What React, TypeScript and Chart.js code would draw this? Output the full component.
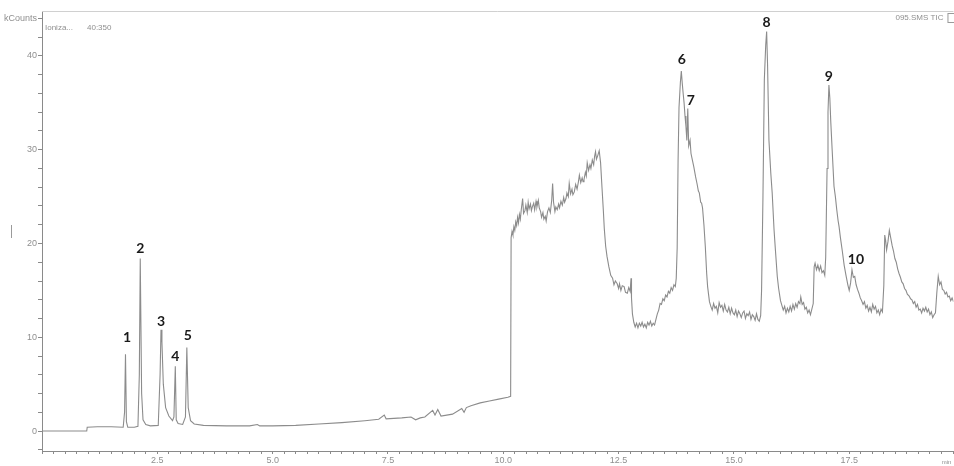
import { useEffect, useRef } from 'react';
import { Chart, registerables } from 'chart.js';

Chart.register(...registerables);

// Retention time (min) of each sampled point of the TIC trace
const retentionTimes: number[] = [
  0, 0.97, 0.98, 1.2, 1.5, 1.76, 1.79, 1.81, 1.83, 1.86, 2.0, 2.08, 2.11, 2.13, 2.16, 2.19, 2.25, 2.35, 2.52, 2.56,
  2.58, 2.6, 2.63, 2.68, 2.75, 2.83, 2.86, 2.89, 2.91, 2.95, 3.05, 3.11, 3.14, 3.17, 3.22, 3.3, 3.5, 4.0, 4.5, 4.67,
  4.72, 5.0, 5.5, 6.0, 6.5, 7.0, 7.3, 7.42, 7.46, 7.8, 8.0, 8.1, 8.2, 8.3, 8.47, 8.52, 8.58, 8.65, 8.9, 9.1,
  9.15, 9.2, 9.3, 9.5, 9.7, 9.9, 10.1, 10.16,
  10.17, 10.19, 10.21, 10.23, 10.25, 10.27, 10.29, 10.31, 10.33, 10.35, 10.37, 10.39, 10.42, 10.44, 10.47, 10.49,
  10.52, 10.54, 10.56, 10.59, 10.61, 10.63, 10.66, 10.68, 10.71, 10.73, 10.76, 10.78, 10.81, 10.83, 10.86, 10.88,
  10.91, 10.93, 10.96, 10.99, 11.02, 11.05, 11.07, 11.09, 11.12, 11.14, 11.17, 11.2, 11.22, 11.25, 11.28, 11.31,
  11.33, 11.36, 11.38, 11.41, 11.43, 11.46, 11.49, 11.51, 11.54, 11.57, 11.6, 11.63, 11.65, 11.68, 11.71, 11.73,
  11.75, 11.78, 11.8, 11.82, 11.85, 11.88, 11.9, 11.93, 11.96, 11.98, 12.0, 12.02, 12.05, 12.08, 12.11, 12.14,
  12.17, 12.19, 12.22, 12.25, 12.29, 12.33, 12.37, 12.4, 12.43, 12.47, 12.5, 12.52, 12.55, 12.58, 12.62, 12.65,
  12.69, 12.72, 12.75, 12.77, 12.78, 12.8, 12.83, 12.86, 12.89, 12.92, 12.95, 12.98, 13.01, 13.04, 13.07, 13.1,
  13.13, 13.16, 13.19, 13.22, 13.25, 13.28, 13.31, 13.34, 13.37, 13.4, 13.43, 13.46, 13.49, 13.52, 13.55, 13.58,
  13.61, 13.64, 13.67, 13.7, 13.73, 13.75, 13.77, 13.79, 13.81, 13.84, 13.86, 13.88, 13.9, 13.92, 13.94, 13.96,
  13.98, 14.0, 14.02, 14.05, 14.07, 14.1, 14.13, 14.17, 14.2, 14.23, 14.25, 14.28, 14.3, 14.32, 14.35, 14.38,
  14.41, 14.43, 14.47, 14.5, 14.53, 14.56, 14.59, 14.62, 14.65, 14.68, 14.71, 14.74, 14.77, 14.8, 14.83, 14.86,
  14.89, 14.92, 14.95, 14.98, 15.01, 15.04, 15.07, 15.1, 15.13, 15.16, 15.19, 15.22, 15.25, 15.28, 15.31, 15.34,
  15.37, 15.4, 15.43, 15.46, 15.49, 15.52, 15.55, 15.58, 15.6, 15.63, 15.66, 15.69, 15.71, 15.73, 15.76, 15.8,
  15.83, 15.87, 15.9, 15.94, 15.97, 16.01, 16.04, 16.07, 16.1, 16.13, 16.16, 16.19, 16.22, 16.25, 16.28, 16.31,
  16.34, 16.37, 16.4, 16.43, 16.45, 16.48, 16.51, 16.54, 16.57, 16.6, 16.63, 16.66, 16.69, 16.72, 16.74, 16.76,
  16.79, 16.82, 16.85, 16.88, 16.91, 16.94, 16.97, 16.99, 17.02, 17.04, 17.06, 17.08, 17.1, 17.13, 17.17, 17.2,
  17.23, 17.26, 17.28, 17.31, 17.35, 17.39, 17.43, 17.47, 17.5, 17.53, 17.56, 17.59, 17.62, 17.65, 17.68, 17.71,
  17.74, 17.77, 17.8, 17.83, 17.86, 17.89, 17.92, 17.95, 17.98, 18.01, 18.04, 18.07, 18.1, 18.13, 18.16, 18.19,
  18.22, 18.25, 18.27, 18.29, 18.31, 18.34, 18.37, 18.4, 18.43, 18.46, 18.49, 18.52, 18.55, 18.58, 18.61, 18.64,
  18.67, 18.7, 18.73, 18.76, 18.8, 18.83, 18.86, 18.89, 18.92, 18.95, 18.98, 19.01, 19.04, 19.07, 19.1, 19.13,
  19.16, 19.19, 19.22, 19.25, 19.28, 19.31, 19.34, 19.37, 19.4, 19.43, 19.46, 19.49, 19.52, 19.55, 19.58, 19.61,
  19.64, 19.67, 19.7, 19.73, 19.76,
];

// Total ion current (kCounts) at each retention time
const ticCounts: number[] = [
  0, 0, 0.4, 0.45, 0.45, 0.4, 2.0, 8.2, 1.0, 0.4, 0.4, 0.5, 6.0, 18.4, 4.0, 1.2, 0.7, 0.55, 0.6, 6.0,
  10.8, 9.5, 5.0, 2.5, 1.6, 1.1, 1.5, 6.9, 1.2, 0.8, 0.7, 1.5, 8.9, 2.5, 1.1, 0.75, 0.6, 0.55, 0.55, 0.7,
  0.55, 0.55, 0.6, 0.75, 0.9, 1.1, 1.25, 1.7, 1.3, 1.4, 1.5, 1.2, 1.4, 1.5, 2.2, 1.7, 2.3, 1.6, 1.8, 2.4,
  2.0, 2.5, 2.7, 3.0, 3.2, 3.4, 3.6, 3.7,
  20.6, 21.3, 20.9, 21.8, 21.4, 22.3, 21.9, 22.8, 22.2, 23.1, 22.6, 23.6, 24.8, 23.2, 23.5, 24.1,
  23.3, 24.4, 23.7, 24.2, 23.5, 23.9, 24.3, 23.6, 24.5, 23.9, 24.6, 23.8, 23.4, 22.8, 23.3, 22.6,
  22.9, 22.4, 23.4, 23.8, 23.3, 24.6, 26.4, 24.4, 23.4, 23.9, 23.6, 24.2, 23.8, 24.5, 24.1, 24.9,
  24.4, 24.8, 25.4, 25.0, 26.4, 25.3, 25.8, 25.2, 25.5, 26.3, 25.8, 26.6, 27.3, 26.5, 27.0, 26.6,
  26.8, 27.6, 27.2, 28.6, 27.8, 28.4, 28.0, 28.9, 28.4, 29.3, 29.8, 29.0, 29.4, 29.9, 28.6, 26.0,
  23.5, 21.6, 19.7, 18.6, 17.5, 16.6, 16.3, 15.6, 16.0, 15.7, 15.2, 15.7, 15.0, 15.5, 15.4, 14.8,
  14.7, 15.3, 14.9, 16.3, 14.2, 12.5, 11.6, 11.1, 11.5, 11.0, 11.5, 11.2, 11.6, 11.1, 11.4, 11.0,
  11.6, 11.3, 11.7, 11.2, 11.5, 11.3, 11.9, 12.5, 12.9, 13.6, 13.5, 14.1, 13.9, 14.5, 14.3, 14.9,
  14.7, 15.3, 15.0, 15.6, 15.4, 16.3, 19.5, 28.9, 34.5, 37.2, 38.4, 37.1, 36.0, 35.0, 33.6, 32.5,
  31.0, 34.4, 30.4, 31.0, 29.6, 28.9, 28.2, 27.1, 26.4, 25.6, 25.4, 24.4, 24.3, 23.8, 22.0, 19.7,
  16.8, 15.4, 13.8, 13.3, 12.9, 13.6, 13.1, 13.3, 12.6, 13.7, 13.2, 13.4, 12.8, 13.5, 12.9, 12.7,
  13.2, 12.5, 13.1, 12.6, 12.4, 12.9, 12.2, 12.8, 12.5, 12.1, 12.6, 12.8, 12.0, 12.5, 12.3, 12.7,
  11.9, 12.4, 12.2, 11.8, 12.5, 11.9, 11.7, 12.3, 15.0, 25.0, 37.5, 41.2, 42.6, 39.0, 31.0, 27.5,
  25.4, 21.5, 19.3, 16.5, 15.2, 13.9, 13.4, 12.9, 13.3, 12.6, 13.1, 12.7, 13.3, 12.8, 13.5, 13.0,
  13.6, 13.2, 13.8, 13.6, 14.3, 13.5, 13.7, 13.0, 13.2, 12.6, 12.9, 12.4, 13.0, 13.6, 17.5, 17.9,
  17.2, 17.7, 17.1, 17.6, 16.9, 17.1, 16.6, 18.5, 28.0, 34.0, 36.9, 35.5, 33.0, 30.0, 26.1, 25.0,
  23.6, 22.4, 21.8, 20.6, 19.2, 17.7, 16.6, 15.6, 15.0, 15.8, 17.2, 16.4, 16.5, 15.6, 15.1, 14.7,
  14.2, 13.9, 13.5, 13.8, 13.1, 13.4, 12.8, 13.2, 12.7, 13.5, 13.0, 13.3, 12.6, 12.9, 12.4, 13.0,
  12.7, 15.5, 20.9, 20.3, 19.3, 20.2, 21.4, 20.6, 19.8, 19.2, 18.4, 18.0, 17.3, 16.8, 16.4, 15.9,
  15.7, 15.2, 15.0, 14.6, 14.4, 14.1, 14.0, 13.6, 13.8, 13.2, 13.5, 12.9, 13.0, 12.6, 13.1, 12.8,
  13.2, 12.7, 13.0, 12.4, 12.7, 12.1, 12.4, 12.6, 14.8, 16.5, 15.6, 15.9, 15.1, 15.0, 14.6, 14.8,
  14.3, 14.4, 13.9, 14.2, 13.8,
];

// Numbered peaks and their apex retention times
const peakNames: string[] = ['1', '2', '3', '4', '5', '6', '7', '8', '9', '10'];
const peakTimes: number[] = [1.81, 2.13, 2.58, 2.89, 3.14, 13.86, 14.0, 15.71, 17.06, 17.56];

// Axis tick values
const yTickValues: number[] = [-2, 0, 2, 4, 6, 8, 10, 12, 14, 16, 18, 20, 22, 24, 26, 28, 30, 32, 34, 36, 38, 40, 42, 44];
const yLabelledTicks: number[] = [0, 10, 20, 30, 40];
const yUnitTick = 44;
const yUnitLabel = 'kCounts';
const xTickStep = 0.25;
const xLabelStep = 2.5;
const xMax = 19.76;

// Label placement offsets in pixels (dx, dy) relative to each apex
const peakLabelOffsets: [number, number][] = [
  [1.5, -17], [0, -10], [0, -8], [0, -10], [1, -12],
  [0.5, -11], [3, -8], [0, -9], [0, -9], [4, -10],
];

const AXIS_GREY = '#8a8a8a';
const TEXT_GREY = '#8f8f8f';
const TRACE_GREY = '#8c8c8c';

export default function App() {
  const canvasRef = useRef<HTMLCanvasElement | null>(null);

  useEffect(() => {
    const canvas = canvasRef.current;
    if (!canvas) return;

    const points = retentionTimes.map((t, i) => ({ x: t, y: ticCounts[i] }));

    const apexValue = (t: number) => {
      let best = -Infinity;
      retentionTimes.forEach((rt, i) => {
        if (Math.abs(rt - t) < 0.015 && ticCounts[i] > best) best = ticCounts[i];
      });
      return best;
    };

    const annotations = {
      id: 'annotations',
      afterDatasetsDraw(chart: any) {
        const { ctx, chartArea, scales } = chart;
        const xs = scales.x;
        const ys = scales.y;
        ctx.save();

        // top frame line
        ctx.strokeStyle = '#d0d0d0';
        ctx.lineWidth = 1;
        ctx.beginPath();
        ctx.moveTo(chartArea.left, Math.round(chartArea.top) - 0.5);
        ctx.lineTo(chartArea.right, Math.round(chartArea.top) - 0.5);
        ctx.stroke();

        // header texts
        ctx.fillStyle = TEXT_GREY;
        ctx.font = '8px "Liberation Sans", Arial, sans-serif';
        ctx.textBaseline = 'middle';
        ctx.textAlign = 'left';
        ctx.fillText('Ioniza...', chartArea.left + 3, 28);
        ctx.fillText('40:350', chartArea.left + 45, 28);
        ctx.textAlign = 'right';
        ctx.fillText('095.SMS TIC', chartArea.right - 10, 18);
        ctx.strokeStyle = '#9a9a9a';
        ctx.strokeRect(chartArea.right - 5.5, 13.5, 8, 9);

        // axis unit at the end of the time axis
        ctx.font = '6px "Liberation Sans", Arial, sans-serif';
        ctx.textAlign = 'right';
        ctx.fillText('min', chartArea.right - 2, 462);

        // small marker left of the intensity axis
        ctx.strokeStyle = '#9a9a9a';
        ctx.beginPath();
        ctx.moveTo(11.5, 225);
        ctx.lineTo(11.5, 238);
        ctx.stroke();

        // peak numbers
        ctx.fillStyle = '#1a1a1a';
        ctx.font = 'bold 14px Lato, "Open Sans", sans-serif';
        ctx.textAlign = 'center';
        ctx.textBaseline = 'middle';
        peakNames.forEach((name, i) => {
          const t = peakTimes[i];
          const v = apexValue(t);
          const [dx, dy] = peakLabelOffsets[i];
          ctx.fillText(name, xs.getPixelForValue(t) + dx, ys.getPixelForValue(v) + dy);
        });
        ctx.restore();
      },
    };

    const chart = new Chart(canvas, {
      type: 'line',
      data: {
        datasets: [
          {
            data: points,
            borderColor: TRACE_GREY,
            borderWidth: 1.1,
            pointRadius: 0,
            tension: 0,
            fill: false,
          },
        ],
      },
      options: {
        animation: false,
        responsive: false,
        devicePixelRatio: 1,
        layout: { padding: { top: 12, right: 0, left: 0, bottom: 0 } },
        plugins: { legend: { display: false }, tooltip: { enabled: false } },
        scales: {
          x: {
            type: 'linear',
            min: 0,
            max: xMax,
            afterFit(scale: any) {
              scale.height = 15;
            },
            afterBuildTicks(scale: any) {
              const ticks = [];
              for (let i = 0; i * xTickStep <= xMax + 1e-9; i++) ticks.push({ value: i * xTickStep });
              scale.ticks = ticks;
            },
            border: { display: true, color: AXIS_GREY, width: 1 },
            grid: { drawOnChartArea: false, drawTicks: true, tickLength: 3, tickColor: AXIS_GREY },
            ticks: {
              autoSkip: false,
              maxRotation: 0,
              padding: 1,
              color: TEXT_GREY,
              font: { family: '"Liberation Sans", Arial, sans-serif', size: 9 },
              callback: (value: any) => {
                const v = Number(value);
                const q = v / xLabelStep;
                return v > 0 && Math.abs(q - Math.round(q)) < 1e-6 ? v.toFixed(1) : '';
              },
            },
          },
          y: {
            type: 'linear',
            min: -2.13,
            max: 44.69,
            afterFit(scale: any) {
              scale.width = 42;
            },
            afterBuildTicks(scale: any) {
              scale.ticks = yTickValues.map((v) => ({ value: v }));
            },
            border: { display: true, color: AXIS_GREY, width: 1 },
            grid: { drawOnChartArea: false, drawTicks: true, tickLength: 4, tickColor: AXIS_GREY },
            ticks: {
              autoSkip: false,
              padding: 1,
              color: TEXT_GREY,
              font: { family: '"Liberation Sans", Arial, sans-serif', size: 9 },
              callback: (value: any) => {
                const v = Number(value);
                if (v === yUnitTick) return yUnitLabel;
                return yLabelledTicks.includes(v) ? String(v) : '';
              },
            },
          },
        },
      },
      plugins: [annotations],
    });

    return () => chart.destroy();
  }, []);

  return (
    <div style={{ position: 'fixed', left: 0, top: 0, width: 954, height: 466, background: '#fff' }}>
      <canvas ref={canvasRef} width={954} height={466} style={{ display: 'block' }} />
    </div>
  );
}
